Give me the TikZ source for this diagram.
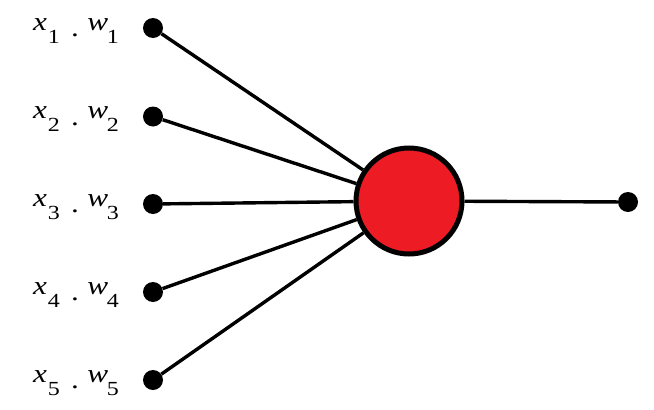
\documentclass[tikz,border=0pt]{standalone}
\usepackage{fontspec}
\usepackage{graphicx}
\setmainfont{Liberation Serif}
\definecolor{neuronred}{RGB}{237,28,36}
\newcommand{\sublab}[1]{\raisebox{-13pt}{\fontsize{20}{22}\selectfont #1}}
\newcommand{\xwlab}[1]{\scalebox{1.2}[1]{\fontsize{26}{30}\selectfont\textit{x}\kern0.8pt\sublab{#1}\kern9.4pt\raisebox{-6.5pt}{.}\kern7pt\textit{w}\kern-1pt\sublab{#1}}}
\begin{document}
\begin{tikzpicture}[x=1pt,y=-1pt,
  dotnode/.style={circle,fill=black,inner sep=0pt,minimum size=20pt},
  neuron/.style={circle,draw=black,line width=5pt,fill=neuronred,inner sep=0pt,minimum size=106pt},
  link/.style={line width=3.4pt},
  lab/.style={anchor=base west,inner sep=0pt,outer sep=0pt}]
\useasboundingbox (0,0) rectangle (654,410);
\node[neuron] (n) at (409,201) {};
\node[dotnode] (o) at (628,202) {};
\foreach \i/\y in {1/28,2/116.5,3/204,4/292,5/380}{
  \node[dotnode] (i\i) at (153,\y) {};
  \node[lab] (l\i) at (33,\y+2.2) {\xwlab{\i}};
  \draw[link] (i\i) -- (n);
}
\draw[link] (n) -- (o);
\end{tikzpicture}
\end{document}
